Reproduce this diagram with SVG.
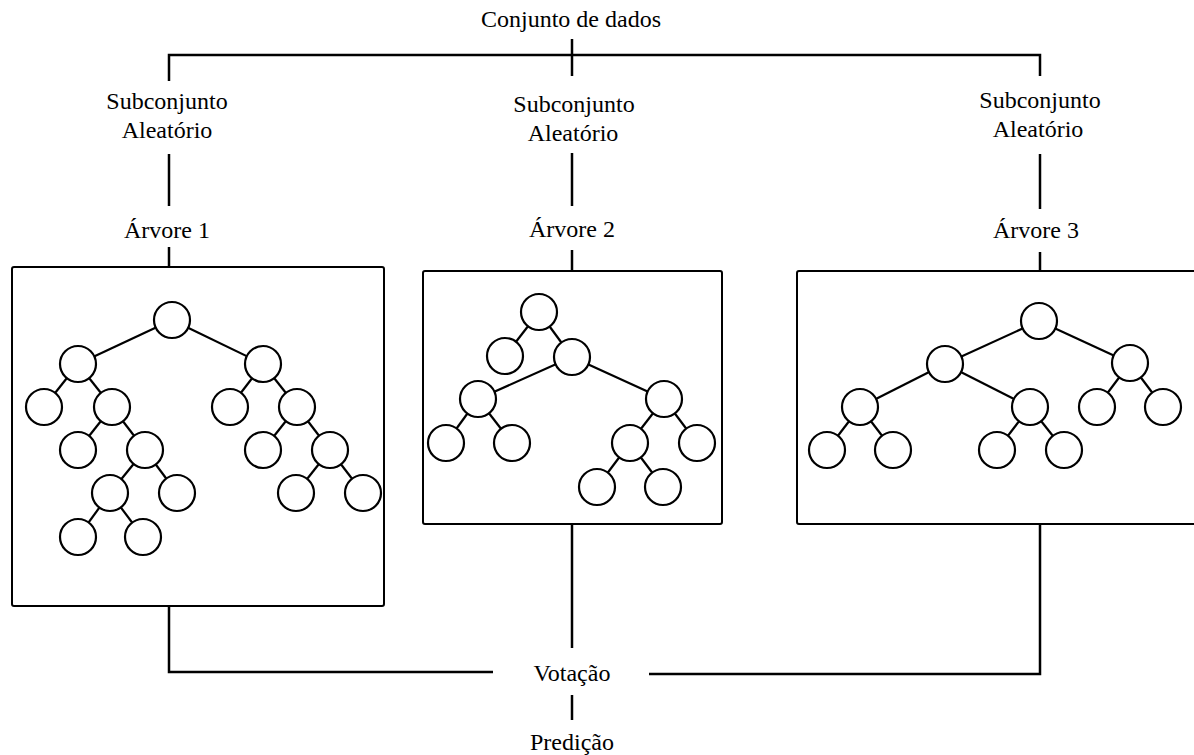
<svg xmlns="http://www.w3.org/2000/svg" width="1194" height="755" viewBox="0 0 1194 755">
  <style>
    .lbl { font-size: 24px; fill: #000; text-anchor: middle; }
    .wire { fill: none; stroke: #000; stroke-width: 2.5; stroke-linecap: butt; }
    .box { fill: #fff; stroke: #000; stroke-width: 2; }
    .edge { stroke: #000; stroke-width: 2.2; }
    .leaf { fill: #fff; stroke: #000; stroke-width: 2.2; }
  </style>
  <rect width="1194" height="755" fill="#fff"/>

  <!-- connectors between the labels and the tree panels -->
  <g id="connectors" class="wire">
    <polyline points="169,81 169,55 1040,55 1040,76"/>
    <line x1="572" y1="39" x2="572" y2="76"/>
    <line x1="169" y1="154" x2="169" y2="206"/>
    <line x1="572" y1="153" x2="572" y2="206"/>
    <line x1="1040" y1="154" x2="1040" y2="209"/>
    <line x1="169" y1="247" x2="169" y2="267"/>
    <line x1="572" y1="250" x2="572" y2="271"/>
    <line x1="1040" y1="252" x2="1040" y2="271"/>
    <polyline points="169,606 169,672 493,672"/>
    <polyline points="1040,524 1040,674 649,674"/>
    <line x1="572" y1="524" x2="572" y2="648"/>
    <line x1="572" y1="695" x2="572" y2="720"/>
  </g>

  <g id="labels" style="font-family:'Liberation Serif'">
    <g id="dataset">
      <text class="lbl" x="571" y="27">Conjunto de dados</text>
    </g>

    <g id="subset1">
      <text class="lbl" x="167" y="109">Subconjunto</text>
      <text class="lbl" x="167" y="138">Aleatório</text>
    </g>
    <g id="subset2">
      <text class="lbl" x="574" y="112">Subconjunto</text>
      <text class="lbl" x="573" y="141">Aleatório</text>
    </g>
    <g id="subset3">
      <text class="lbl" x="1040" y="108">Subconjunto</text>
      <text class="lbl" x="1038" y="137">Aleatório</text>
    </g>

    <g id="tree1-label"><text class="lbl" x="167" y="238">Árvore 1</text></g>
    <g id="tree2-label"><text class="lbl" x="572" y="237">Árvore 2</text></g>
    <g id="tree3-label"><text class="lbl" x="1036" y="238">Árvore 3</text></g>

    <g id="voting">
      <text class="lbl" x="572" y="681">Votação</text>
    </g>
    <g id="prediction">
      <text class="lbl" x="572" y="750">Predição</text>
    </g>
  </g>

  <!-- Tree 1 -->
  <g id="tree1">
    <rect class="box" x="12" y="267" width="372" height="339" rx="2"/>
    <g class="edge">
      <line x1="172" y1="320" x2="78" y2="364"/>
      <line x1="172" y1="320" x2="263" y2="364"/>
      <line x1="78" y1="364" x2="44" y2="407"/>
      <line x1="78" y1="364" x2="112" y2="407"/>
      <line x1="112" y1="407" x2="78" y2="450"/>
      <line x1="112" y1="407" x2="145" y2="450"/>
      <line x1="145" y1="450" x2="110" y2="493"/>
      <line x1="145" y1="450" x2="177" y2="493"/>
      <line x1="110" y1="493" x2="78" y2="537"/>
      <line x1="110" y1="493" x2="143" y2="537"/>
      <line x1="263" y1="364" x2="230" y2="407"/>
      <line x1="263" y1="364" x2="297" y2="407"/>
      <line x1="297" y1="407" x2="263" y2="450"/>
      <line x1="297" y1="407" x2="330" y2="450"/>
      <line x1="330" y1="450" x2="296" y2="493"/>
      <line x1="330" y1="450" x2="363" y2="493"/>
    </g>
    <g class="leaf">
      <circle cx="172" cy="320" r="18"/>
      <circle cx="78" cy="364" r="18"/>
      <circle cx="263" cy="364" r="18"/>
      <circle cx="44" cy="407" r="18"/>
      <circle cx="112" cy="407" r="18"/>
      <circle cx="230" cy="407" r="18"/>
      <circle cx="297" cy="407" r="18"/>
      <circle cx="78" cy="450" r="18"/>
      <circle cx="145" cy="450" r="18"/>
      <circle cx="263" cy="450" r="18"/>
      <circle cx="330" cy="450" r="18"/>
      <circle cx="110" cy="493" r="18"/>
      <circle cx="177" cy="493" r="18"/>
      <circle cx="296" cy="493" r="18"/>
      <circle cx="363" cy="493" r="18"/>
      <circle cx="78" cy="537" r="18"/>
      <circle cx="143" cy="537" r="18"/>
    </g>
  </g>

  <!-- Tree 2 -->
  <g id="tree2">
    <rect class="box" x="423" y="271" width="299" height="253" rx="2"/>
    <g class="edge">
      <line x1="539" y1="312" x2="505" y2="356"/>
      <line x1="539" y1="312" x2="572" y2="357"/>
      <line x1="572" y1="357" x2="478" y2="399"/>
      <line x1="572" y1="357" x2="664" y2="399"/>
      <line x1="478" y1="399" x2="446" y2="443"/>
      <line x1="478" y1="399" x2="512" y2="443"/>
      <line x1="664" y1="399" x2="630" y2="443"/>
      <line x1="664" y1="399" x2="697" y2="443"/>
      <line x1="630" y1="443" x2="597" y2="487"/>
      <line x1="630" y1="443" x2="663" y2="487"/>
    </g>
    <g class="leaf">
      <circle cx="539" cy="312" r="18"/>
      <circle cx="505" cy="356" r="18"/>
      <circle cx="572" cy="357" r="18"/>
      <circle cx="478" cy="399" r="18"/>
      <circle cx="664" cy="399" r="18"/>
      <circle cx="446" cy="443" r="18"/>
      <circle cx="512" cy="443" r="18"/>
      <circle cx="630" cy="443" r="18"/>
      <circle cx="697" cy="443" r="18"/>
      <circle cx="597" cy="487" r="18"/>
      <circle cx="663" cy="487" r="18"/>
    </g>
  </g>

  <!-- Tree 3 (panel runs past the right edge) -->
  <g id="tree3">
    <rect class="box" x="797" y="271" width="404" height="253" rx="2"/>
    <g class="edge">
      <line x1="1039" y1="321" x2="945" y2="364"/>
      <line x1="1039" y1="321" x2="1130" y2="363"/>
      <line x1="945" y1="364" x2="860" y2="407"/>
      <line x1="945" y1="364" x2="1030" y2="407"/>
      <line x1="860" y1="407" x2="827" y2="450"/>
      <line x1="860" y1="407" x2="893" y2="450"/>
      <line x1="1030" y1="407" x2="997" y2="450"/>
      <line x1="1030" y1="407" x2="1064" y2="450"/>
      <line x1="1130" y1="363" x2="1097" y2="407"/>
      <line x1="1130" y1="363" x2="1163" y2="407"/>
    </g>
    <g class="leaf">
      <circle cx="1039" cy="321" r="18"/>
      <circle cx="945" cy="364" r="18"/>
      <circle cx="1130" cy="363" r="18"/>
      <circle cx="860" cy="407" r="18"/>
      <circle cx="1030" cy="407" r="18"/>
      <circle cx="1097" cy="407" r="18"/>
      <circle cx="1163" cy="407" r="18"/>
      <circle cx="827" cy="450" r="18"/>
      <circle cx="893" cy="450" r="18"/>
      <circle cx="997" cy="450" r="18"/>
      <circle cx="1064" cy="450" r="18"/>
    </g>
  </g>
</svg>
